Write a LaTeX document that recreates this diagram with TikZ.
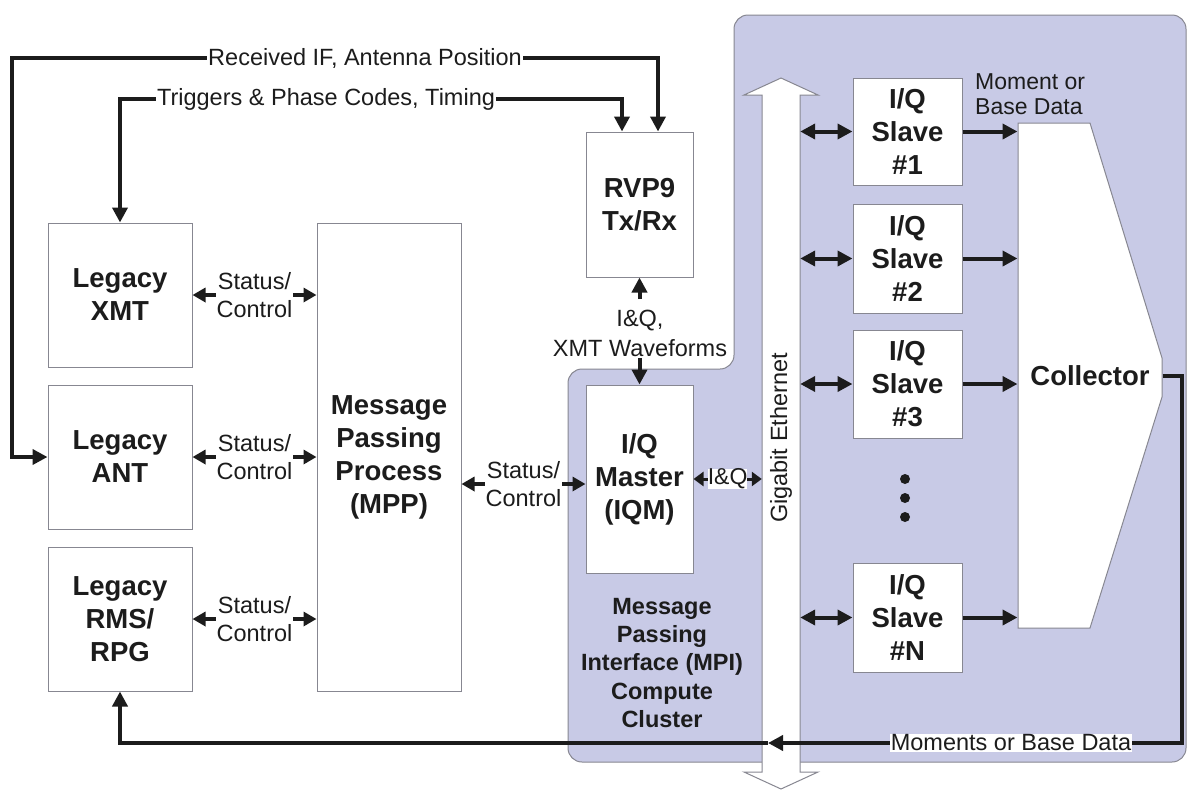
\documentclass[tikz,border=0pt]{standalone}
\usepackage{fontspec}
\setmainfont{Liberation Sans}
\usetikzlibrary{arrows.meta}
\definecolor{lav}{RGB}{200,202,230}
\definecolor{bord}{RGB}{135,135,145}
\definecolor{ink}{RGB}{28,28,28}
\begin{document}
\begin{tikzpicture}[x=1pt,y=-1pt,
  box/.style={draw=bord, line width=1pt, fill=white, text=ink, align=center, inner sep=0pt,
    font=\fontsize{27.5}{33}\selectfont\bfseries},
  lab/.style={text=ink, align=center, inner sep=1pt, font=\fontsize{23.5}{28}\selectfont},
  wire/.style={line width=4pt, draw=ink, -{Triangle[length=15pt,width=15pt]}},
  biwire/.style={line width=4pt, draw=ink, {Triangle[length=15pt,width=15pt]}-{Triangle[length=15pt,width=15pt]}},
  stat/.style={line width=4pt, draw=ink, {Triangle[length=13pt,width=14pt]}-{Triangle[length=13pt,width=14pt]}},
  small/.style={line width=3pt, draw=ink, {Triangle[length=10pt,width=14pt]}-{Triangle[length=10pt,width=14pt]}},
]
\useasboundingbox (0,0) rectangle (1187,793);
\fill[white] (0,0) rectangle (1187,793);

% shaded cluster region
\path[draw=bord, line width=1pt, fill=lav, rounded corners=14pt]
  (568,762) -- (568,369) -- (734,369) -- (734,15) -- (1186,15) -- (1186,762) -- cycle;

% gigabit ethernet double arrow
\path[draw=bord, line width=1pt, fill=white]
  (781,78) -- (818,95) -- (800,95) -- (800,772) -- (818,772) -- (781,789)
  -- (744,772) -- (762,772) -- (762,95) -- (744,95) -- cycle;
\node[minimum width=38pt, minimum height=677pt, inner sep=0pt] (eth) at (781,433.5) {};
\node[lab, rotate=90] (ethlab) at (781,438) {Gigabit Ethernet};

% boxes
\node[box, minimum width=144pt, minimum height=144pt] (xmt) at (120,295) {Legacy\\XMT};
\node[box, minimum width=144pt, minimum height=144pt] (ant) at (120,457) {Legacy\\ANT};
\node[box, minimum width=144pt, minimum height=144pt] (rms) at (120,619) {Legacy\\RMS/\\RPG};
\node[box, minimum width=144pt, minimum height=468pt] (mpp) at (389,457) {Message\\Passing\\Process\\(MPP)};
\node[box, minimum width=107pt, minimum height=145pt] (rvp) at (639.5,204.5) {RVP9\\Tx/Rx};
\node[box, minimum width=107pt, minimum height=188pt] (iqm) at (639.5,479) {I/Q\\Master\\(IQM)};
\node[box, minimum width=109pt, minimum height=107pt] (s1) at (907.5,131.5) {I/Q\\Slave\\\#1};
\node[box, minimum width=109pt, minimum height=109pt] (s2) at (907.5,258.5) {I/Q\\Slave\\\#2};
\node[box, minimum width=109pt, minimum height=108pt] (s3) at (907.5,384) {I/Q\\Slave\\\#3};
\node[box, minimum width=109pt, minimum height=109pt] (sN) at (907.5,617.5) {I/Q\\Slave\\\#N};

% collector
\path[draw=bord, line width=1pt, fill=white]
  (1018,123) -- (1090,123) -- (1162,358) -- (1162,397) -- (1090,628) -- (1018,628) -- cycle;
\node[box, draw=none, fill=none, minimum width=144pt, minimum height=505pt] (coll) at (1090,375.5) {Collector};

% dots
\node[circle, fill=ink, minimum size=10pt, inner sep=0pt] (d1) at (905,479) {};
\node[circle, fill=ink, minimum size=10pt, inner sep=0pt] (d2) at (905,498) {};
\node[circle, fill=ink, minimum size=10pt, inner sep=0pt] (d3) at (905,517) {};

% MPI label
\node[text=ink, align=center, inner sep=0pt, font=\fontsize{23.5}{28.3}\selectfont\bfseries] (mpi) at (662,663)
  {Message\\Passing\\Interface (MPI)\\Compute\\Cluster};

% top wires
\coordinate (L1) at (12,58);
\coordinate (r1) at (658,58);
\draw[biwire] (ant.west) -| (L1) -| (rvp.north -| r1);
\node[lab, fill=white] (rif) at (365,58) {Received IF, Antenna Position};
\coordinate (T1) at (120,99);
\coordinate (t2) at (622,99);
\draw[biwire] (xmt.north) -- (T1) -| (rvp.north -| t2);
\node[lab, fill=white] (trg) at (326,99) {Triggers \& Phase Codes, Timing};

% RVP9 <-> IQM
\node[lab, font=\fontsize{23.5}{30}\selectfont] (iqx) at (640,333) {I\&Q,\\XMT Waveforms};
\coordinate (q1) at (639.5,299);
\coordinate (q2) at (639.5,358);
\draw[wire] (q1) -- (rvp.south);
\draw[wire] (q2) -- (iqm.north);

% status / control
\draw[stat] (xmt.east) -- (mpp.west |- xmt.east) node[midway, lab, fill=white] {Status/\\Control};
\draw[stat] (ant.east) -- (mpp.west |- ant.east) node[midway, lab, fill=white] {Status/\\Control};
\draw[stat] (rms.east) -- (mpp.west |- rms.east) node[midway, lab, fill=white] {Status/\\Control};
\coordinate (m1) at (500,484);
\draw[stat] (mpp.east |- m1) -- (iqm.west |- m1) node[midway, lab, fill=white] {Status/\\Control};

% IQM <-> ethernet
\draw[small] (iqm.east) -- (eth.west |- iqm.east) node[midway, lab, fill=white, inner sep=0pt, font=\fontsize{23}{26}\selectfont] {I\&Q};

% ethernet <-> slaves
\draw[biwire] (eth.east |- s1.west) -- (s1.west);
\draw[biwire] (eth.east |- s2.west) -- (s2.west);
\draw[biwire] (eth.east |- s3.west) -- (s3.west);
\draw[biwire] (eth.east |- sN.west) -- (sN.west);

% slaves -> collector
\draw[wire] (s1.east) -- (coll.west |- s1.east);
\draw[wire] (s2.east) -- (coll.west |- s2.east);
\draw[wire] (s3.east) -- (coll.west |- s3.east);
\draw[wire] (sN.east) -- (coll.west |- sN.east);
\node[lab, align=left, anchor=west, font=\fontsize{23}{25}\selectfont] (mbd) at (974,94) {Moment or\\Base Data};

% collector output back to RMS
\coordinate (c1) at (1182,743);
\coordinate (tp) at (768,743);
\draw[wire] (coll.east) -| (c1) -- (tp);
\draw[wire] (tp) -| (rms.south);
\node[lab, fill=white] (mom) at (1011,743) {Moments or Base Data};
\end{tikzpicture}
\end{document}
